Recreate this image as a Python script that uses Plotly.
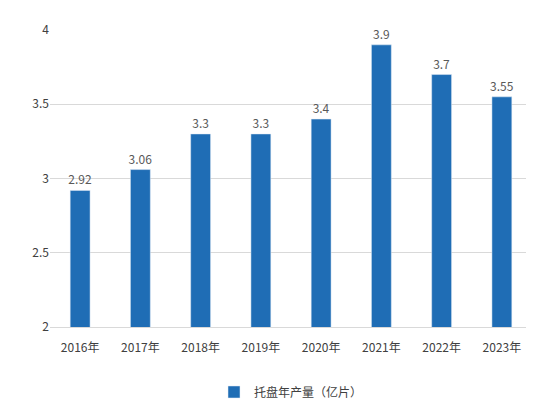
import plotly.graph_objects as go

years = ["2016年","2017年","2018年","2019年","2020年","2021年","2022年","2023年"]
values = [2.92,3.06,3.3,3.3,3.4,3.9,3.7,3.55]
labels = ["2.92","3.06","3.3","3.3","3.4","3.9","3.7","3.55"]

fig = go.Figure(go.Bar(x=years, y=values, text=labels, textposition="outside",
    marker_color="#1f6db5", width=0.33, name="托盘年产量（亿片）",
    textfont=dict(color="#595959", size=12), cliponaxis=False))
fig.update_layout(width=534, height=408, paper_bgcolor="white", plot_bgcolor="white",
    margin=dict(l=42, r=10, t=22, b=84),
    font=dict(family="Noto Sans CJK SC", color="#404040", size=12),
    uniformtext=dict(minsize=12, mode="show"),
    showlegend=True,
    legend=dict(orientation="h", x=0.5, xanchor="center", y=-0.17, yanchor="top", font=dict(size=12),
                itemwidth=30),
    bargap=0.6)
fig.update_yaxes(range=[2,4], tickvals=[2,2.5,3,3.5,4], ticktext=["2","2.5","3","3.5","4"],
    showgrid=True, gridcolor="#d9d9d9", zeroline=False, showline=False, ticks="")
fig.update_xaxes(showline=True, linecolor="#d9d9d9", ticks="outside", ticklen=10, tickcolor="rgba(0,0,0,0)")
fig.write_html("out.html")
